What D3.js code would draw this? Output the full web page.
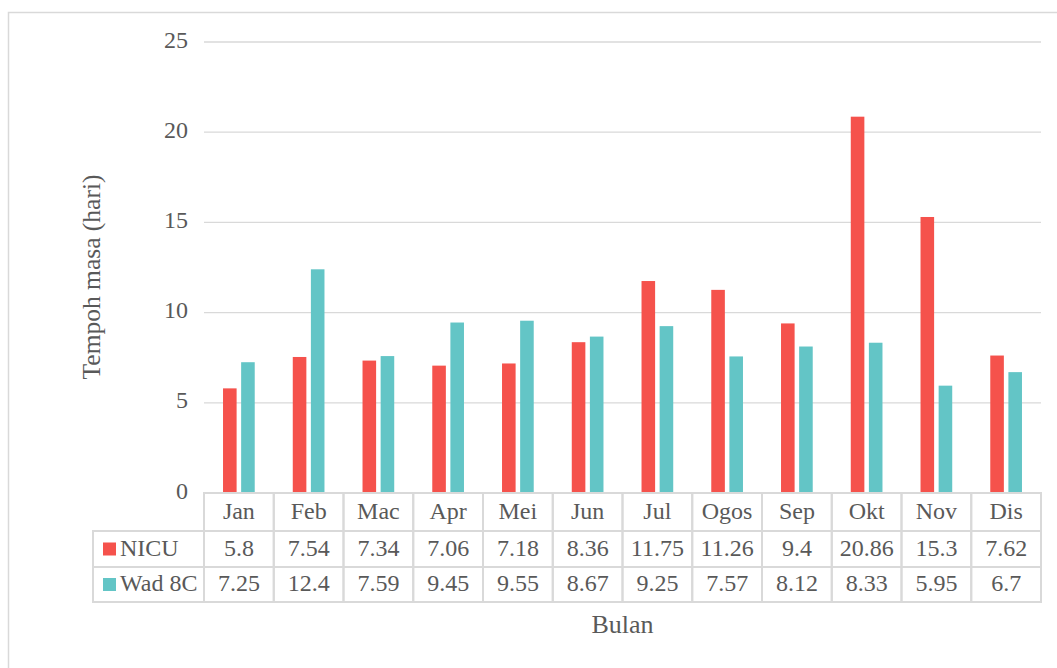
<!DOCTYPE html>
<html lang="en">
<head>
    <meta charset="utf-8">
    <script src="https://cdn.jsdelivr.net/npm/d3@7"></script>
    <style>
        body { margin: 0; background: white; }
        .grid line { stroke: #d9d9d9; stroke-width: 1.3px; }
        .cell { fill: none; stroke: #d9d9d9; stroke-width: 2px; }
    </style>
</head>
<body>
<script>
    // data
    let months = ['Jan', 'Feb', 'Mac', 'Apr', 'Mei', 'Jun', 'Jul', 'Ogos', 'Sep', 'Okt', 'Nov', 'Dis'];
    let nicu = [5.8, 7.54, 7.34, 7.06, 7.18, 8.36, 11.75, 11.26, 9.4, 20.86, 15.3, 7.62];
    let wad8c = [7.25, 12.4, 7.59, 9.45, 9.55, 8.67, 9.25, 7.57, 8.12, 8.33, 5.95, 6.7];
    let seriesNames = ['NICU', 'Wad 8C'];
    let colors = ['#F5524C', '#63C5C6'];
    let yTicks = [0, 5, 10, 15, 20, 25];

    let series = [nicu, wad8c];
    let fontFace = "'Liberation Serif'";

    let svg = d3.select('body').append('svg')
        .attr('width', 1057).attr('height', 668);

    // text helper so every label gets the serif face and grey fill
    function label(g, txt, size) {
        return g.append('text').text(txt)
            .style('font-family', fontFace)
            .style('font-size', size + 'px')
            .attr('fill', '#595959');
    }

    // chart frame
    svg.append('rect')
        .attr('x', 8.5).attr('y', 12.5)
        .attr('width', 1060).attr('height', 700)
        .attr('fill', 'white').attr('stroke', '#d9d9d9').attr('stroke-width', 1.5);

    let plotLeft = 204, plotRight = 1041, plotTop = 42, plotBottom = 493;

    let x = d3.scaleBand().domain(months).range([plotLeft, plotRight]);
    let xInner = d3.scaleBand().domain(seriesNames).range([0, x.bandwidth()])
        .paddingInner(0.25).paddingOuter(1.05);
    let y = d3.scaleLinear().domain([0, 25]).range([plotBottom, plotTop]);

    // gridlines
    svg.append('g').attr('class', 'grid')
        .selectAll('line').data(yTicks.filter(d => d > 0)).enter()
        .append('line')
        .attr('x1', plotLeft).attr('x2', plotRight)
        .attr('y1', d => y(d)).attr('y2', d => y(d));

    // y tick labels
    let tickG = svg.append('g');
    yTicks.forEach(function (t) {
        label(tickG, t, 24)
            .attr('x', 188).attr('y', y(t))
            .attr('text-anchor', 'end').attr('dominant-baseline', 'middle');
    });

    // bars
    seriesNames.forEach(function (name, i) {
        svg.append('g').selectAll('rect')
            .data(series[i]).enter()
            .append('rect')
            .attr('x', (d, j) => x(months[j]) + xInner(name))
            .attr('width', xInner.bandwidth())
            .attr('y', d => y(d))
            .attr('height', d => y(0) - y(d))
            .attr('fill', colors[i]);
    });

    // data table
    let rowTop = [493, 531, 567];
    let rowH = [38, 36, 35];
    let legendLeft = 93;
    let table = svg.append('g');

    months.forEach(function (m) {
        table.append('rect').attr('class', 'cell')
            .attr('x', x(m)).attr('y', rowTop[0])
            .attr('width', x.bandwidth()).attr('height', rowH[0]);
        label(table, m, 24)
            .attr('x', x(m) + x.bandwidth() / 2).attr('y', rowTop[0] + rowH[0] / 2 + 1)
            .attr('text-anchor', 'middle').attr('dominant-baseline', 'middle');
    });

    seriesNames.forEach(function (name, i) {
        let ry = rowTop[i + 1], rh = rowH[i + 1];
        table.append('rect').attr('class', 'cell')
            .attr('x', legendLeft).attr('y', ry)
            .attr('width', plotLeft - legendLeft).attr('height', rh);
        table.append('rect')
            .attr('x', legendLeft + 10).attr('y', ry + rh / 2 - 6.5)
            .attr('width', 13).attr('height', 13)
            .attr('fill', colors[i]);
        label(table, name, 24)
            .attr('x', legendLeft + 27).attr('y', ry + rh / 2 + 1)
            .attr('dominant-baseline', 'middle');
        series[i].forEach(function (v, j) {
            table.append('rect').attr('class', 'cell')
                .attr('x', x(months[j])).attr('y', ry)
                .attr('width', x.bandwidth()).attr('height', rh);
            label(table, v, 24)
                .attr('x', x(months[j]) + x.bandwidth() / 2).attr('y', ry + rh / 2 + 1)
                .attr('text-anchor', 'middle').attr('dominant-baseline', 'middle');
        });
    });

    // axis titles
    label(svg, 'Bulan', 26)
        .attr('x', (plotLeft + plotRight) / 2).attr('y', 627)
        .attr('text-anchor', 'middle').attr('dominant-baseline', 'middle');

    label(svg, 'Tempoh masa (hari)', 25.5)
        .attr('transform', 'translate(94,277) rotate(-90)')
        .attr('text-anchor', 'middle').attr('dominant-baseline', 'middle');
</script>
</body>
</html>
